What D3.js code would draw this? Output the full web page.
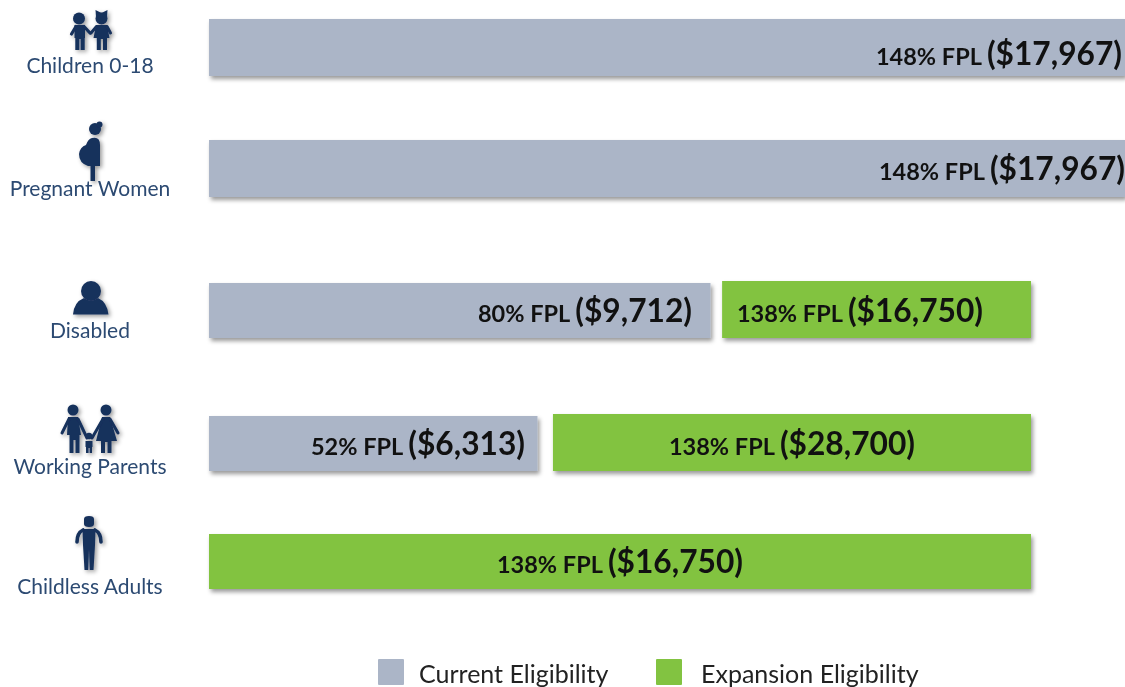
<!DOCTYPE html>
<html>
<head>
<meta charset="utf-8">
<script src="https://cdnjs.cloudflare.com/ajax/libs/d3/7.8.5/d3.min.js"></script>
<style>
    html, body { margin: 0; padding: 0; background: #fff; overflow: hidden; }
    /* the original is a soft screenshot */
    svg { display: block; filter: blur(0.4px); }
    text { font-family: Lato, "Open Sans", sans-serif; }
</style>
</head>
<body>
<div id="chart"></div>
<script>
// values
const categories = ["Children 0-18", "Pregnant Women", "Disabled", "Working Parents", "Childless Adults"];
const current_fpl = [148, 148, 80, 52, null];
const current_income = [17967, 17967, 9712, 6313, null];
const expansion_fpl = [null, null, 138, 138, 138];
const expansion_income = [null, null, 16750, 28700, 16750];
// green bars start just after the grey ones, read in FPL units
const expansion_start = [null, null, 82.1, 54.5, 0];
const legend_names = ["Current Eligibility", "Expansion Eligibility"];

const GREY = "#abb5c7", GREEN = "#82c341", NAVY = "#15305c", LABEL = "#2c4a72", INK = "#111";

const width = 1125, height = 687;
const svg = d3.select("#chart").append("svg").attr("width", width).attr("height", height);

// the original bars are not drawn to one scale, so this is a piecewise one
const x = d3.scaleLinear().domain([0, 52, 80, 138, 148]).range([209, 537.5, 710.5, 1031, 1125]);
const y_bottom = d3.scaleOrdinal().domain(categories).range([76, 197, 338, 471, 589]);
const bar_height = d3.scaleOrdinal().domain(categories).range([57, 57, 55, 55, 55]);
const income = d3.format("$,");

let defs = svg.append("defs");
let shadow = defs.append("filter").attr("id", "shadow")
    .attr("x", "-5%").attr("y", "-20%").attr("width", "110%").attr("height", "150%");
shadow.append("feDropShadow").attr("dx", 2).attr("dy", 3).attr("stdDeviation", 2)
    .attr("flood-color", "#000").attr("flood-opacity", 0.4);
let icon_shadow = defs.append("filter").attr("id", "icon_shadow")
    .attr("x", "-30%").attr("y", "-30%").attr("width", "170%").attr("height", "170%");
icon_shadow.append("feDropShadow").attr("dx", 2).attr("dy", 2).attr("stdDeviation", 2)
    .attr("flood-color", "#000").attr("flood-opacity", 0.4);

// tidy up the bars
let bars = [];
categories.forEach((name, i) => {
    if (current_fpl[i] !== null) {
        bars.push({name: name, start: 0, end: current_fpl[i], color: GREY,
            fpl: current_fpl[i], amount: current_income[i]});
    }
    if (expansion_fpl[i] !== null) {
        bars.push({name: name, start: expansion_start[i], end: expansion_fpl[i], color: GREEN,
            fpl: expansion_fpl[i], amount: expansion_income[i]});
    }
});
// green bars beside a grey one stand 2px taller
function bar_top(d) {
    let top = y_bottom(d.name) - bar_height(d.name);
    return d.color === GREEN && d.start > 0 ? top - 2 : top;
}

svg.selectAll(".bar").data(bars).enter().append("rect")
    .attr("class", "bar")
    .attr("x", d => x(d.start))
    .attr("y", bar_top)
    .attr("width", d => x(d.end) - x(d.start))
    .attr("height", d => y_bottom(d.name) - bar_top(d))
    .attr("fill", d => d.color)
    .attr("filter", "url(#shadow)");

// right edge and baseline of each bar label, same order as bars
const label_right = [1122, 1125, 692, 983, 525, 915, 743];
const label_base = [65, 180, 322, 322, 455, 455, 573];

let labels = svg.selectAll(".bar_label").data(bars).enter().append("text")
    .attr("class", "bar_label")
    .attr("x", (d, i) => label_right[i])
    .attr("y", (d, i) => label_base[i])
    .attr("text-anchor", "end")
    .attr("fill", INK)
    .attr("font-weight", 700);
labels.append("tspan").attr("font-size", 23.5).text(d => d.fpl + "% FPL ");
labels.append("tspan").attr("font-size", 31.7).text(d => "(" + income(d.amount) + ")");

// category names under the icons
const name_base = [72.5, 195.5, 337.5, 473.5, 593.5];
svg.selectAll(".name").data(categories).enter().append("text")
    .attr("class", "name")
    .attr("x", 90)
    .attr("y", (d, i) => name_base[i])
    .attr("text-anchor", "middle")
    .attr("font-size", 21)
    .attr("fill", LABEL)
    .text(d => d);

// icons
let icons = svg.append("g").attr("fill", NAVY).attr("stroke", "none").attr("filter", "url(#icon_shadow)");
function head(cx, cy, r) { icons.append("circle").attr("cx", cx).attr("cy", cy).attr("r", r); }
function shape(d) { icons.append("path").attr("d", d); }
function limb(d, w) {
    icons.append("path").attr("d", d).attr("fill", "none").attr("stroke", NAVY)
        .attr("stroke-width", w).attr("stroke-linecap", "round").attr("stroke-linejoin", "round");
}

// children
head(79, 18.5, 6);
shape("M74.5,25 H85 V38 H84.7 V50 H80.6 V39 H79.4 V50 H75.3 V38 H74.5 Z");
limb("M76,26.5 L71.5,34", 3.2);
limb("M84,26.5 L90,33", 3.2);
head(101.5, 18.5, 6);
shape("M95.5,10 L101.5,13 L107.5,10 L107,17 H96 Z");
shape("M96,25 H107 L109.5,38 H107 V50 H103 V39 H100.8 V50 H96.8 V38 H93.5 Z");
limb("M96.5,26.5 L91,33", 3);
limb("M107,26.5 L110.5,33", 3);

// pregnant woman
head(95, 129, 6);
head(99.5, 124.5, 3);
shape("M92,138 Q100,136 100,145 L100,166 L88,166 Q79,163 79,154 Q80,147 86,145 Q88,139 92,138 Z");
shape("M90.5,165 H95 V181 H90.5 Z");

// disabled
head(91, 291, 10);
shape("M73,314.5 Q74,302 84,298 Q91,303 98,298 Q107,302 108.5,314.5 Z");

// working parents
head(73, 410, 5.5);
shape("M68,417 H78 L81,435 H79.5 V453 H75.5 V440 H73.5 V453 H69.5 V435 H67 Z");
limb("M69,419 L62,433", 3);
limb("M78,419 L87,438", 3);
head(106, 410, 5.5);
shape("M102,417 H110 L117,441 H111.5 V453 H107.5 V442 H105 V453 H101 V441 H96 Z");
limb("M103,419 L92,438", 3);
limb("M110,419 L118,433", 3);
head(89, 436, 3.2);
shape("M85.5,441 H92.5 V447 H92 V453 H89.6 V448 H88.6 V453 H86 V447 H85.5 Z");

// childless adult
shape("M84,519 Q84,516 89,516 Q94,516 94,519 V524 Q94,527 89,527 Q84,527 84,524 Z");
shape("M82.5,529 H95.5 L95,545 L93.5,570 H89.7 L89,549 L88.3,570 H84.5 L83,545 Z");
limb("M83,530 Q77,533 77,542", 3.6);
limb("M95,530 Q101,533 101,542", 3.6);

// legend
const legend_swatch = [378, 656];
const legend_text = [419, 701];
const legend_colors = [GREY, GREEN];
svg.selectAll(".swatch").data(legend_names).enter().append("rect")
    .attr("class", "swatch")
    .attr("x", (d, i) => legend_swatch[i])
    .attr("y", 659)
    .attr("width", 26)
    .attr("height", 26)
    .attr("rx", 1)
    .attr("fill", (d, i) => legend_colors[i]);
svg.selectAll(".legend_name").data(legend_names).enter().append("text")
    .attr("class", "legend_name")
    .attr("x", (d, i) => legend_text[i])
    .attr("y", 683)
    .attr("font-size", 25)
    .attr("fill", "#222")
    .text(d => d);
</script>
</body>
</html>
